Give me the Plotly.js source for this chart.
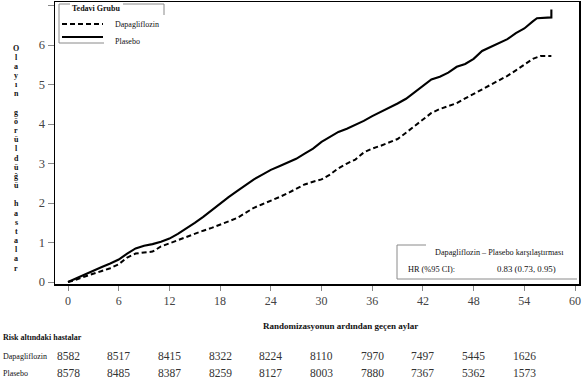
<!DOCTYPE html>
<html>
<head>
<meta charset="utf-8">
<script src="https://cdn.plot.ly/plotly-3.0.1.min.js"></script>
<style>html,body{margin:0;padding:0;background:#fff;}#chart{width:582px;height:379px;}</style>
</head>
<body>
<div id="chart"></div>
<script>
// ---- data ----
const seriesNames = ["Dapagliflozin", "Plasebo"];
const dapaMonths = [0,0.6,1,2,3,4,5,6,7,8,9,10,11,12,13,14,15,16,17,18,19,20,21,22,23,24,25,26,27,28,29,30,31,32,33,34,35,36,37,38,39,40,41,42,43,44,45,46,47,48,49,50,51,52,53,54,55,55.9,57.2];
const dapaValues = [0,0.03,0.06,0.14,0.22,0.28,0.35,0.45,0.62,0.72,0.75,0.77,0.9,0.98,1.06,1.15,1.24,1.3,1.37,1.45,1.52,1.62,1.75,1.88,1.97,2.05,2.15,2.25,2.36,2.47,2.54,2.6,2.72,2.88,3.0,3.1,3.28,3.38,3.45,3.53,3.62,3.78,3.95,4.1,4.28,4.38,4.45,4.53,4.65,4.76,4.88,4.98,5.1,5.22,5.36,5.5,5.65,5.72,5.72];
const placMonths = [0,1,2,3,4,5,6,7,8,9,10,11,12,13,14,15,16,17,18,19,20,21,22,23,24,25,26,27,28,29,30,31,32,33,34,35,36,37,38,39,40,41,42,43,44,45,46,47,48,49,50,51,52,53,54,55,55.5,57.2,57.2];
const placValues = [0,0.1,0.2,0.3,0.38,0.47,0.57,0.72,0.85,0.92,0.96,1.02,1.1,1.22,1.35,1.5,1.65,1.82,1.97,2.15,2.3,2.45,2.6,2.72,2.84,2.93,3.02,3.12,3.25,3.38,3.55,3.68,3.8,3.88,3.97,4.08,4.2,4.3,4.4,4.52,4.64,4.8,4.98,5.13,5.2,5.3,5.45,5.52,5.65,5.85,5.95,6.05,6.15,6.3,6.42,6.6,6.68,6.7,6.9];
const riskMonths = [0,6,12,18,24,30,36,42,48,54];
const riskDapa = [8582,8517,8415,8322,8224,8110,7970,7497,5445,1626];
const riskPlac = [8578,8485,8387,8259,8127,8003,7880,7367,5362,1573];
const xTicks = [0,6,12,18,24,30,36,42,48,54,60];
const yTicks = [0,1,2,3,4,5,6,7];
const xTitle = "Randomizasyonun ardından geçen aylar";
const yTitle = "Olayın görüldüğü hastalar";
const legendTitle = "Tedavi Grubu";
const riskTitle = "Risk altındaki hastalar";
const hrTitle = "Dapagliflozin – Plasebo karşılaştırması";
const hrLabel = "HR (%95 CI):";
const hrValue = "0.83 (0.73, 0.95)";

// ---- layout helpers (pixel -> paper) ----
const L = 55, R = 579, T = 2, B = 284;
function px(x){ return (x - L) / (R - L); }
function py(y){ return (B - y) / (B - T); }
const FONT = "Liberation Serif";

const traces = [
  {x: dapaMonths, y: dapaValues, name: seriesNames[0], mode: "lines", type: "scatter",
   line: {color: "#000", width: 2, dash: "5px,3px"}, showlegend: false, hoverinfo: "skip"},
  {x: placMonths, y: placValues, name: seriesNames[1], mode: "lines", type: "scatter",
   line: {color: "#000", width: 2.1}, showlegend: false, hoverinfo: "skip"}
];

function txt(x, y, text, size, anchor, color, xref){
  return {xref: xref || "paper", yref: "paper", x: xref ? x : px(x), y: py(y), text: text, showarrow: false,
    xanchor: anchor || "left", yanchor: "middle", font: {family: FONT, size: size, color: color || "#111"}};
}

const ann = [];
// y-axis title, stacked letters
Array.from(yTitle).forEach((c, i) => {
  if (c === " ") return;
  ann.push(txt(16, 48 + i * 9.17, "<b>" + c + "</b>", 8, "center"));
});
// x-axis title
ann.push(txt(340, 326, "<b>" + xTitle + "</b>", 9, "center"));
// legend
ann.push(txt(96, 8, "<b>" + legendTitle + "</b>", 8, "center"));
ann.push(txt(113, 24, seriesNames[0], 8));
ann.push(txt(113, 42, seriesNames[1], 8));
// HR box
ann.push(txt(433, 252, hrTitle, 8.2));
ann.push(txt(406, 269, hrLabel, 8.3));
ann.push(txt(495, 269, hrValue, 8.8));
// risk table
ann.push(txt(1, 337, "<b>" + riskTitle + "</b>", 8));
ann.push(txt(1, 356, seriesNames[0], 8));
ann.push(txt(1, 373, seriesNames[1], 8));
riskMonths.forEach((m, i) => {
  ann.push(txt(m, 356, String(riskDapa[i]), 11.5, "center", "#333", "x"));
  ann.push(txt(m, 373, String(riskPlac[i]), 11.5, "center", "#333", "x"));
});

const G = "#8a8a8a";
function seg(x0, y0, x1, y1, color, width, dash){
  return {type: "line", xref: "paper", yref: "paper", x0: px(x0), y0: py(y0), x1: px(x1), y1: py(y1),
    line: {color: color, width: width, dash: dash || "solid"}};
}
const shapes = [
  // legend frame
  seg(59, 4, 59, 43, G, 1), seg(59, 4, 70, 4, G, 1), seg(123, 4, 164, 4, G, 1), seg(164, 4, 164, 15, G, 1),
  seg(59, 43, 104, 43, G, 1),
  // legend samples
  seg(62, 24, 103, 24, "#000", 2, "5px,3px"), seg(62, 37, 103, 37, "#000", 2.1),
  // HR box frame
  seg(397, 245, 426, 245, G, 1), seg(397, 245, 397, 279, G, 1), seg(397, 279, 577, 279, G, 1)
];

const layout = {
  width: 582, height: 379,
  margin: {l: L, r: 582 - R, t: T, b: 379 - B},
  paper_bgcolor: "#fff", plot_bgcolor: "#fff",
  showlegend: false,
  font: {family: FONT, size: 12, color: "#444"},
  xaxis: {range: [-1.54, 60.47], tickvals: xTicks, ticktext: xTicks.map(String), showgrid: false, zeroline: false,
    showline: true, linecolor: "#000", linewidth: 1.5, mirror: true, ticks: "outside", ticklen: 5, tickcolor: "#888",
    tickfont: {family: FONT, size: 12, color: "#444"}},
  yaxis: {range: [-0.05, 7.09], tickvals: yTicks, ticktext: yTicks.map(String), showgrid: false, zeroline: false,
    showline: true, linecolor: "#000", linewidth: 1.5, mirror: true, ticks: "outside", ticklen: 6, tickcolor: "#888",
    tickfont: {family: FONT, size: 12.5, color: "#444"}},
  annotations: ann,
  shapes: shapes
};

Plotly.newPlot("chart", traces, layout, {staticPlot: true, displayModeBar: false});
</script>
</body>
</html>
